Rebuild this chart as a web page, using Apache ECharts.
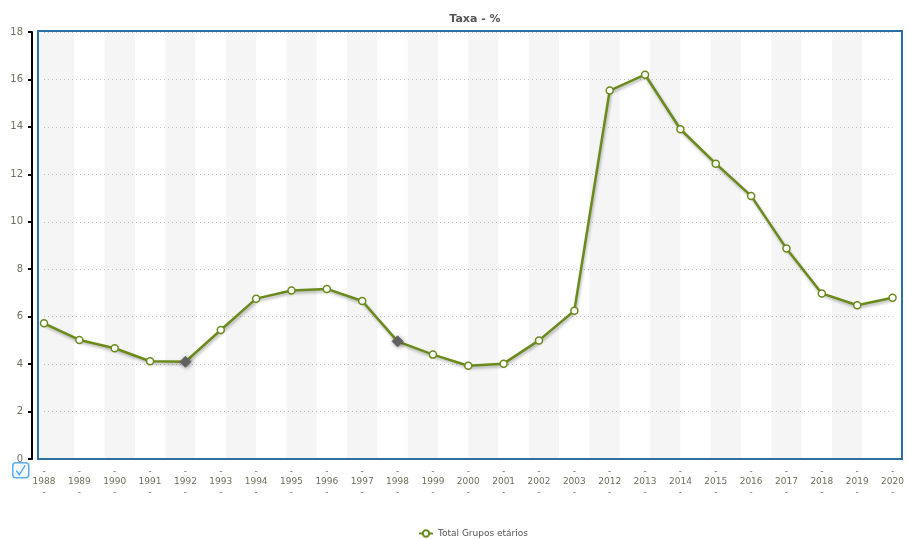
<!DOCTYPE html>
<html>
<head>
<meta charset="utf-8">
<script src="https://cdn.jsdelivr.net/npm/echarts@6/dist/echarts.min.js"></script>
<style>
  html, body { margin: 0; padding: 0; background: #fff; }
  #chart { width: 907px; height: 539px; }
</style>
</head>
<body>
<div id="chart"></div>
<script>
// anos (categorias do eixo x)
const years = ['1988', '1989', '1990', '1991', '1992', '1993', '1994', '1995', '1996', '1997',
  '1998', '1999', '2000', '2001', '2002', '2003', '2012', '2013', '2014', '2015',
  '2016', '2017', '2018', '2019', '2020']
// taxa - %
const rates = [5.72, 5.02, 4.67, 4.12, 4.10, 5.44, 6.76, 7.10, 7.17, 6.66,
  4.96, 4.40, 3.93, 4.02, 5.00, 6.25, 15.53, 16.20, 13.90, 12.45,
  11.09, 8.87, 6.98, 6.48, 6.80]
// pontos destacados (losango cinza)
const markedYears = ['1992', '1998']
// faixas de fundo
const stripeCount = 28

const lineColor = '#6b8a1c'
const labelColor = '#6f6f5c'
const fontFamily = 'DejaVu Sans, Verdana, sans-serif'

const chart = echarts.init(document.getElementById('chart'))

const seriesData = rates.map((v, i) => {
  if (markedYears.includes(years[i])) {
    return {
      value: v,
      symbol: 'diamond',
      symbolSize: 11,
      itemStyle: {
        color: '#666',
        borderColor: '#666',
        borderWidth: 1,
        shadowColor: 'rgba(0,0,0,0.35)',
        shadowBlur: 4,
        shadowOffsetX: 1,
        shadowOffsetY: 1
      }
    }
  }
  return v
})

const option = {
  animation: false,
  backgroundColor: '#fff',
  textStyle: { fontFamily: fontFamily },
  title: {
    text: 'Taxa - %',
    left: 470,
    top: 9,
    textAlign: 'center',
    textStyle: { fontSize: 11, fontWeight: 'bold', color: '#555', fontFamily: fontFamily }
  },
  legend: {
    left: 413,
    top: 524,
    itemWidth: 14,
    itemHeight: 8,
    itemGap: 4,
    textStyle: { fontSize: 9, color: '#555', fontFamily: fontFamily },
    data: ['Total Grupos etários']
  },
  grid: {
    left: 44,
    right: 10,
    top: 32,
    bottom: 80
  },
  xAxis: [
    {
      type: 'category',
      data: years,
      boundaryGap: false,
      axisLine: { show: false },
      axisTick: { show: false },
      splitLine: { show: false },
      axisLabel: {
        interval: 0,
        margin: 7,
        fontSize: 9,
        lineHeight: 10.5,
        color: labelColor,
        formatter: (v) => '-\n' + v + '\n-'
      }
    },
    {
      // eixo oculto só para as faixas
      type: 'value',
      min: 0,
      max: stripeCount,
      interval: 1,
      z: -1,
      axisLine: { show: false },
      axisTick: { show: false },
      axisLabel: { show: false },
      splitLine: { show: false },
      splitArea: { show: true, areaStyle: { color: ['#f5f5f5', '#ffffff'] } }
    }
  ],
  yAxis: {
    type: 'value',
    min: 0,
    max: 18,
    interval: 2,
    offset: 12,
    z: 2,
    axisLine: { show: true, onZero: false, lineStyle: { color: '#000', width: 2 } },
    axisTick: { show: true, length: 4, lineStyle: { color: '#000', width: 2 } },
    axisLabel: { margin: 9, fontSize: 10, color: labelColor },
    splitLine: { show: true, lineStyle: { color: '#bbb', type: [1, 3], width: 1 } }
  },
  graphic: [
    {
      type: 'rect',
      z: -1,
      silent: true,
      shape: { x: 38, y: 31, width: 6, height: 428 },
      style: { fill: '#f5f5f5' }
    },
    {
      type: 'rect',
      z: 100,
      silent: true,
      shape: { x: 38, y: 31, width: 864, height: 428 },
      style: { fill: 'none', stroke: '#2d6ea3', lineWidth: 2 }
    },
    {
      type: 'group',
      left: 12,
      top: 462,
      children: [
        {
          type: 'rect',
          shape: { x: 0, y: 0, width: 16, height: 15, r: 3 },
          style: { fill: '#f2f9ff', stroke: '#58aef0', lineWidth: 1.5 }
        },
        {
          type: 'polyline',
          shape: { points: [[3.5, 8], [6.5, 12], [12.5, 2.5]] },
          style: { fill: 'none', stroke: '#4aa3ee', lineWidth: 1.3 }
        }
      ]
    }
  ],
  series: [
    {
      name: 'Total Grupos etários',
      type: 'line',
      xAxisIndex: 0,
      data: seriesData,
      symbol: 'circle',
      symbolSize: 7,
      showAllSymbol: true,
      z: 10,
      lineStyle: {
        color: lineColor,
        width: 2.5,
        shadowColor: 'rgba(0,0,0,0.3)',
        shadowBlur: 3,
        shadowOffsetX: 1,
        shadowOffsetY: 2
      },
      itemStyle: {
        color: '#fff',
        borderColor: lineColor,
        borderWidth: 1.5
      }
    }
  ]
}

chart.setOption(option)
</script>
</body>
</html>
